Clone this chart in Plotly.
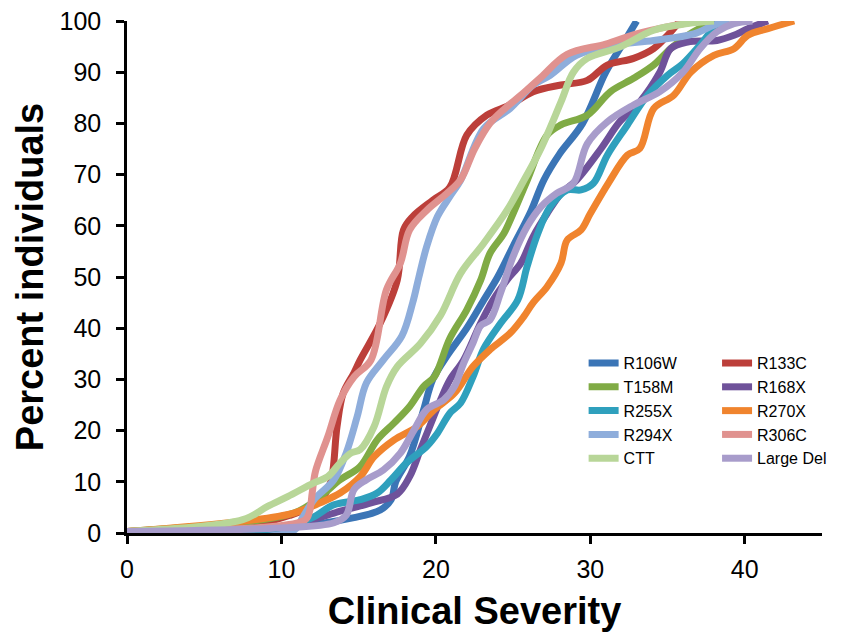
import plotly.graph_objects as go

# ---- data ----
names = ["R106W", "R133C", "T158M", "R168X", "R255X",
         "R270X", "R294X", "R306C", "CTT", "Large Del"]
colors = ["#3B75B6", "#BC3F3A", "#80AB45", "#6F529A", "#2FA0BD",
          "#F0842E", "#8EADDB", "#E0928F", "#B8D698", "#A89CCB"]

r106w_x = [0, 10, 14.7, 16.4, 17.1, 17.4, 18.3, 19.2, 19.8, 20.7, 22, 23.1, 24, 25, 26.1, 27, 28, 29.5, 31, 32.2, 33]
r106w_y = [0.3, 1, 3, 4.5, 6.5, 10, 15, 24, 30, 34.5, 40, 45.5, 50, 56, 62.5, 69, 74, 80, 90, 96, 100]

r133c_x = [0, 9, 10.6, 11.9, 12.7, 13.2, 13.6, 14, 14.7, 15.1, 16.4, 17.5, 17.9, 18.5, 19.8, 20.9, 22, 23.3, 24.8, 26.3, 28.1, 29.8, 31.1, 32.8, 34.1, 35, 35.8]
r133c_y = [0.3, 2.2, 3.5, 5.2, 7.1, 10, 20.8, 27.3, 31.3, 33.8, 41, 49.4, 59.2, 61.8, 65, 67.5, 77.7, 81.6, 83.6, 86.2, 87.5, 88.4, 91.4, 92.7, 94.6, 97.2, 100]

t158m_x = [0, 10.8, 12.5, 13.8, 15.1, 16.2, 17.3, 18.3, 19.2, 19.9, 20.9, 22, 22.9, 23.5, 24.4, 25, 25.9, 27.2, 28.1, 29.8, 31.3, 32.8, 34.1, 35.2, 36.3, 37.6, 39]
t158m_y = [0.3, 3.9, 7.1, 10.4, 13, 18.2, 21.5, 24.7, 28.6, 30.5, 38, 43.6, 49.4, 54.6, 58.5, 62.4, 68.8, 77.7, 79.7, 81.6, 86.2, 88.8, 91.4, 94.6, 97.2, 99.2, 100]

r168x_x = [0, 10, 13.4, 15.8, 17.5, 18.3, 19, 19.6, 20.3, 20.9, 21.8, 22.9, 23.7, 24.6, 25.5, 26.3, 27.2, 28.1, 29.1, 30.7, 31.9, 33.2, 34.5, 35.2, 36.3, 38.2, 39.3, 40.2, 41.5]
r168x_y = [0.3, 1, 3.9, 5.9, 7.6, 11, 16.3, 20.8, 26, 29.9, 33.8, 41, 45.5, 49.4, 52.7, 57.9, 62.4, 66.3, 68.9, 75.1, 80.3, 84.2, 90, 94.6, 95.9, 96.2, 97.2, 98.5, 100]

r255x_x = [0, 10, 12, 13.4, 15.1, 16.2, 17.1, 18.1, 19.4, 20.1, 20.9, 21.6, 22.4, 23.1, 24.2, 25.3, 25.9, 26.6, 27.4, 28.5, 29.4, 30.2, 31.1, 32.4, 33.7, 35, 36, 37.1, 38, 38.8]
r255x_y = [0.3, 1, 3, 5.5, 6.5, 7.8, 10.4, 13.7, 16.9, 19.5, 23.4, 25.4, 30.5, 36, 41, 45.5, 52, 58.5, 63.7, 67, 67, 68.3, 73.8, 79.7, 85.5, 89.4, 91.7, 95.3, 98.5, 100]

r270x_x = [0, 7.5, 10.8, 12.5, 13.8, 15.1, 16, 17.3, 18.8, 19.9, 21.2, 22.4, 23.5, 24.8, 25.7, 26.3, 27.2, 28.1, 28.5, 29.4, 30, 31.2, 32.4, 33.2, 34.1, 35.4, 36.5, 38, 39.3, 40.2, 41.5, 43.2]
r270x_y = [0.3, 2.3, 3.9, 5.9, 7.8, 11, 14.9, 18.2, 20.8, 24.1, 27.3, 32.5, 35.8, 39, 42.3, 45, 48.1, 52.7, 57.2, 59.2, 62.4, 68.5, 73.8, 75.1, 82.9, 85.5, 90, 93.3, 94.6, 97.2, 98.5, 100]

r294x_x = [0, 10.7, 11.4, 12.1, 13.4, 14.2, 14.9, 15.5, 16.6, 17.8, 18.5, 18.9, 19.4, 20.1, 20.9, 21.6, 23.1, 24.8, 26.3, 27.4, 29.1, 31.5, 34.1, 36.7, 38, 39]
r294x_y = [0, 0.3, 3.2, 6.5, 10.4, 15.7, 22.7, 29.3, 33.8, 38.5, 45, 50, 55.9, 61.8, 65.7, 68.9, 79, 82.9, 87.5, 89.4, 93.3, 95.3, 96.2, 97.5, 99.2, 100]

r306c_x = [0, 11.5, 11.8, 12.0, 12.2, 13, 13.8, 14.7, 15.8, 16.8, 17.7, 18.3, 19.4, 20.7, 21.6, 22.5, 23.5, 24.5, 25.5, 26.8, 28.5, 31, 33, 35.5, 37]
r306c_y = [0.3, 2.5, 4, 8, 12, 18.8, 26, 30.5, 33.8, 47.5, 52.7, 59.2, 63, 66.3, 69, 75, 80, 83, 85.5, 89, 93.5, 95.5, 97.5, 99.2, 100]

ctt_x = [0, 7.5, 9.1, 10.4, 12.1, 13, 13.8, 14.5, 15.1, 16, 16.8, 17.5, 19, 20.3, 21.6, 23.1, 24.6, 25.7, 26.8, 28.1, 28.9, 29.8, 31.9, 34.1, 36.3, 38]
ctt_y = [0.3, 2.6, 5.2, 7.1, 9.8, 11, 13.7, 15.6, 16.3, 20.8, 28.6, 32.5, 37, 42.5, 50.7, 56.6, 63, 68.9, 75.1, 84.2, 90, 92.7, 94.9, 98.2, 99.5, 100]

largedel_x = [0, 10, 13.4, 14.2, 14.7, 15.5, 16.6, 17.7, 18.6, 19.4, 20.5, 21.2, 21.8, 22.4, 22.9, 23.5, 24.2, 25, 25.9, 26.8, 27.8, 28.9, 29.8, 31.1, 32.8, 34.5, 36, 37.1, 38.2, 39.3, 40.5]
largedel_y = [0.3, 1, 2, 3.5, 8.5, 10.4, 12.3, 15.6, 20.2, 24.1, 26, 28.6, 33.2, 37.1, 40.5, 41.6, 47, 54, 59.8, 63.7, 66.3, 68.3, 76, 80.3, 83.6, 86.2, 90, 94.6, 97.9, 99.5, 100]

series_x = [r106w_x, r133c_x, t158m_x, r168x_x, r255x_x, r270x_x, r294x_x, r306c_x, ctt_x, largedel_x]
series_y = [r106w_y, r133c_y, t158m_y, r168x_y, r255x_y, r270x_y, r294x_y, r306c_y, ctt_y, largedel_y]

x_ticks = [0, 10, 20, 30, 40]
y_ticks = [0, 10, 20, 30, 40, 50, 60, 70, 80, 90, 100]

FONT = "Liberation Sans, Arial, Helvetica, sans-serif"

fig = go.Figure()
for i, (nm, c, xs, ys) in enumerate(zip(names, colors, series_x, series_y)):
    fig.add_trace(go.Scatter(
        x=xs, y=ys, name=nm, mode="lines",
        line=dict(color=c, width=7, shape="spline", smoothing=1),
        legend="legend" if i % 2 == 0 else "legend2",
        hoverinfo="skip",
    ))

legend_common = dict(
    bgcolor="rgba(0,0,0,0)", borderwidth=0,
    font=dict(family=FONT, size=16, color="black"),
    yanchor="top", xanchor="left", tracegroupgap=0,
    itemwidth=30,
)

fig.update_layout(
    width=847, height=637,
    margin=dict(l=119, r=33, t=13, b=112, autoexpand=False),
    paper_bgcolor="white", plot_bgcolor="white",
    showlegend=True,
    legend=dict(x=0.657, y=0.365, **legend_common),
    legend2=dict(x=0.849, y=0.365, **legend_common),
    xaxis=dict(
        range=[0, 45], tickvals=x_ticks, ticktext=[str(v) for v in x_ticks],
        showgrid=False, zeroline=False, showline=True, linecolor="black", linewidth=2.5,
        ticks="outside", ticklen=8, tickwidth=2.5, tickcolor="black",
        tickfont=dict(family=FONT, size=25, color="black"),
        ticklabelstandoff=4, automargin=False, ticklabeloverflow="allow",
        title=dict(text="<b>Clinical Severity</b>", font=dict(family=FONT, size=38, color="black"), standoff=16),
    ),
    yaxis=dict(
        range=[0, 100], tickvals=y_ticks, ticktext=[str(v) for v in y_ticks],
        showgrid=False, zeroline=False, showline=True, linecolor="black", linewidth=2.5,
        ticks="outside", ticklen=8, tickwidth=2.5, tickcolor="black",
        tickfont=dict(family=FONT, size=25, color="black"),
        ticklabelstandoff=10, automargin=False, ticklabeloverflow="allow",
        title=dict(text="<b>Percent individuals</b>", font=dict(family=FONT, size=38, color="black"), standoff=5),
    ),
)

fig.write_html("out.html")
